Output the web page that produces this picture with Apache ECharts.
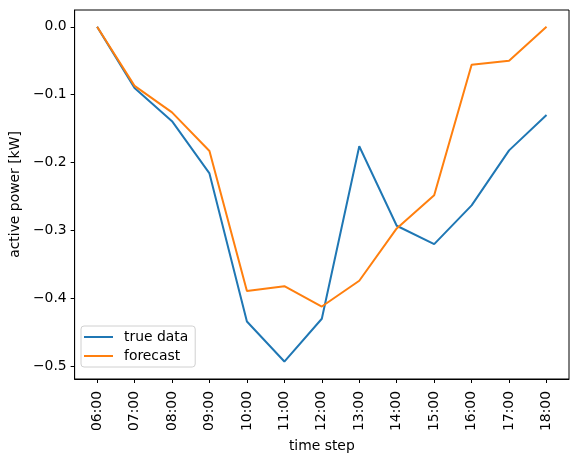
<!DOCTYPE html>
<html>
<head>
<meta charset="utf-8">
<script src="https://cdn.jsdelivr.net/npm/echarts@6/dist/echarts.min.js"></script>
<style>
  html, body { margin: 0; padding: 0; background: #fff; }
  #chart { width: 578px; height: 458px; }
</style>
</head>
<body>
<div id="chart"></div>
<script>
var categories = ['06:00', '07:00', '08:00', '09:00', '10:00', '11:00', '12:00',
                  '13:00', '14:00', '15:00', '16:00', '17:00', '18:00'];
var trueData = [0, -0.090, -0.139, -0.216, -0.434, -0.493, -0.430,
                -0.176, -0.293, -0.320, -0.263, -0.182, -0.130];
var forecast = [0, -0.087, -0.126, -0.183, -0.389, -0.382, -0.412,
                -0.374, -0.297, -0.248, -0.056, -0.050, 0.0];
var yTicks = [-0.5, -0.4, -0.3, -0.2, -0.1, 0.0];

var font = 'DejaVu Sans';
var fs = 13.9;

function pairs(arr) {
  return arr.map(function (v, i) { return [i, v]; });
}
var xTicks = categories.map(function (c, i) { return i; });

var chart = echarts.init(document.getElementById('chart'));
chart.setOption({
  animation: false,
  textStyle: { fontFamily: font },
  grid: { left: 73, right: 9, top: 10, bottom: 79, show: true, borderColor: '#000', borderWidth: 1 },
  legend: {
    left: 81, top: 326,
    orient: 'vertical',
    itemWidth: 29, itemHeight: 2, itemGap: 5,
    padding: [4, 7, 4, 3],
    borderColor: '#d0d0d0', borderWidth: 1, borderRadius: 3,
    textStyle: { fontSize: fs, color: '#000', fontFamily: font, padding: [0, 0, 0, 6] },
    icon: 'rect',
    data: ['true data', 'forecast']
  },
  xAxis: {
    type: 'value',
    min: -0.6, max: 12.6,
    name: 'time step', nameLocation: 'middle', nameGap: 57,
    nameTextStyle: { fontSize: fs, color: '#000', fontFamily: font },
    axisLine: { show: true, onZero: false, lineStyle: { color: '#000', width: 1 } },
    axisTick: { show: true, length: 4, inside: false, customValues: xTicks, lineStyle: { color: '#000' } },
    axisLabel: {
      customValues: xTicks, rotate: 90, margin: 12,
      fontSize: fs, color: '#000', fontFamily: font,
      formatter: function (v) { return categories[Math.round(v)]; }
    },
    splitLine: { show: false }
  },
  yAxis: {
    type: 'value',
    min: -0.5187, max: 0.0247,
    name: 'active power [kW]', nameLocation: 'middle', nameGap: 50,
    nameTextStyle: { fontSize: fs, color: '#000', fontFamily: font },
    axisLine: { show: true, onZero: false, lineStyle: { color: '#000', width: 1 } },
    axisTick: { show: true, length: 4, inside: false, customValues: yTicks, lineStyle: { color: '#000' } },
    axisLabel: {
      customValues: yTicks, margin: 8,
      fontSize: fs, color: '#000', fontFamily: font,
      formatter: function (v) { return v.toFixed(1).replace('-', '\u2212'); }
    },
    splitLine: { show: false }
  },
  series: [
    {
      name: 'true data', type: 'line', data: pairs(trueData),
      showSymbol: false, symbol: 'none',
      lineStyle: { color: '#1f77b4', width: 2 }, itemStyle: { color: '#1f77b4' }
    },
    {
      name: 'forecast', type: 'line', data: pairs(forecast),
      showSymbol: false, symbol: 'none',
      lineStyle: { color: '#ff7f0e', width: 2 }, itemStyle: { color: '#ff7f0e' }
    }
  ]
});
</script>
</body>
</html>
